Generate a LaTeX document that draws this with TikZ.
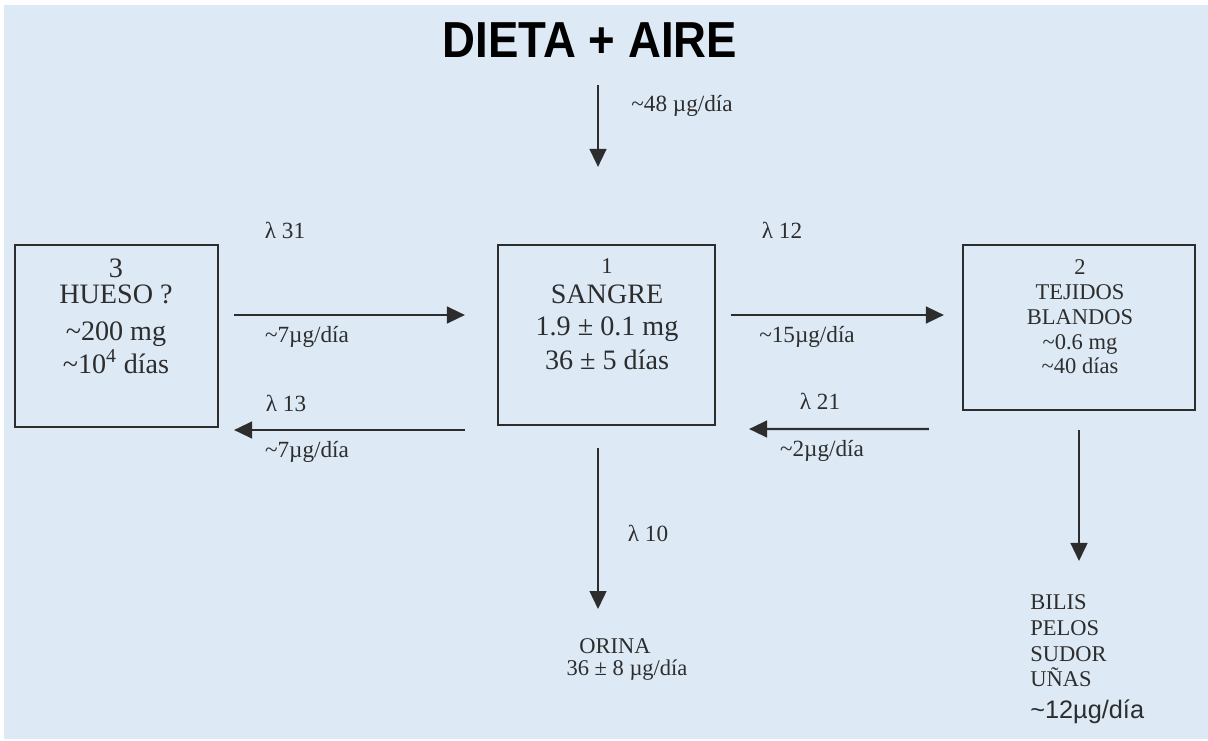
\documentclass[tikz,border=0pt]{standalone}
\usepackage{fontspec}
\setmainfont{Liberation Serif}
\setsansfont{Liberation Sans}
\usetikzlibrary{arrows.meta}
\definecolor{fondo}{RGB}{221,233,245}
\definecolor{tinta}{RGB}{45,45,45}

\begin{document}
\begin{tikzpicture}[x=0.025cm,y=-0.025cm,
    caja/.style={draw=tinta,line width=1.5pt},
    dato/.style={text=tinta,align=center,inner sep=0pt},
    etiq/.style={text=tinta,inner sep=0pt,font=\fontsize{16.5}{18}\selectfont},
    flujo/.style={draw=tinta,line width=1.5pt,-{Triangle[length=0.45cm,width=0.42cm]}}]
    \fill[white] (0,0) rectangle (1208,741);
    \useasboundingbox (0,0) rectangle (1208,741);
    \fill[fondo] (4,5) rectangle (1208,739);

    \node[text=black,inner sep=0pt,font=\sffamily\bfseries\fontsize{36}{36}\selectfont] (dieta) at (590,40) {\scalebox{0.9}[1]{DIETA + AIRE}};

    \node[caja,minimum width=5.075cm,minimum height=4.55cm] (hueso) at (116.5,336) {};
    \node[caja,minimum width=5.425cm,minimum height=4.5cm] (sangre) at (606.5,335) {};
    \node[caja,minimum width=5.8cm,minimum height=4.125cm] (tejidos) at (1079,327.5) {};

    \node[dato,font=\fontsize{20}{23.5}\selectfont] (hueso-txt) at (116,316) {3\\[-5pt]HUESO ?\\[3pt]\textasciitilde200 mg\\ \textasciitilde10\textsuperscript{4} días};
    \node[dato,font=\fontsize{20}{24}\selectfont] (sangre-txt) at (607,314) {{\fontsize{16}{16}\selectfont 1}\\[-3pt]SANGRE\\[-1pt]1.9 ± 0.1 mg\\ 36 ± 5 días};
    \node[dato,font=\fontsize{16}{17.6}\selectfont] (tejidos-txt) at (1080,317) {2\\TEJIDOS\\BLANDOS\\ \textasciitilde0.6 mg\\ \textasciitilde40 días};

    \coordinate (fuente) at (598,85);
    \coordinate (orina-in) at (598,609);
    \coordinate (excretas-in) at (1079,561);

    \draw[flujo] (fuente) -- ([shift={(-8.5,-77)}]sangre.north);
    \draw[flujo] ([shift={(15,-21)}]hueso.east) -- ([shift={(-32,-20)}]sangre.west);
    \draw[flujo] ([shift={(-32,95)}]sangre.west) -- ([shift={(15,94)}]hueso.east);
    \draw[flujo] ([shift={(15,-20)}]sangre.east) -- ([shift={(-18,-12.5)}]tejidos.west);
    \draw[flujo] ([shift={(-33,101.5)}]tejidos.west) -- ([shift={(33,94)}]sangre.east);
    \draw[flujo] ([shift={(-8.5,22)}]sangre.south) -- (orina-in);
    \draw[flujo] ([shift={(0,19)}]tejidos.south) -- (excretas-in);

    \node[etiq] (entrada) at (682,106) {\textasciitilde48 µg/día};
    \node[etiq] (l31) at (285,230) {λ 31};
    \node[etiq] (f31) at (307,337) {\textasciitilde7µg/día};
    \node[etiq] (l13) at (286,403) {λ 13};
    \node[etiq] (f13) at (307,452) {\textasciitilde7µg/día};
    \node[etiq] (l12) at (782,230) {λ 12};
    \node[etiq] (f12) at (807,337) {\textasciitilde15µg/día};
    \node[etiq] (l21) at (820,401) {λ 21};
    \node[etiq] (f21) at (822,451) {\textasciitilde2µg/día};
    \node[etiq] (l10) at (648,533) {λ 10};
    \node[etiq,font=\fontsize{16}{18}\selectfont] (orina) at (615,646) {ORINA};
    \node[etiq,font=\fontsize{16}{18}\selectfont] (f10) at (627,670) {36 ± 8 µg/día};
    \node[etiq,align=left,anchor=west,font=\fontsize{16}{18.3}\selectfont] (excretas) at (1030,641) {BILIS\\PELOS\\SUDOR\\UÑAS};
    \node[etiq,anchor=west,font=\sffamily\fontsize{18}{18}\selectfont] (f20) at (1030,712) {\textasciitilde12µg/día};
\end{tikzpicture}
\end{document}
